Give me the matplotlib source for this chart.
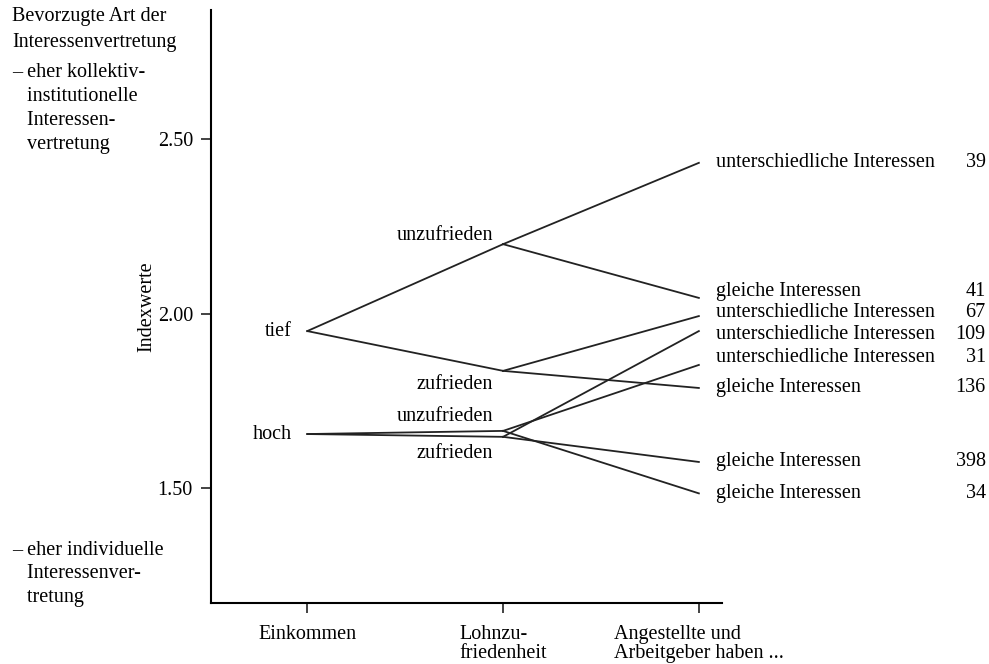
import matplotlib.pyplot as plt

plt.rcParams['font.family'] = ['Liberation Serif', 'DejaVu Serif']

# stages on the x axis
stages = ["Einkommen", "Lohnzu-\nfriedenheit", "Angestellte und\nArbeitgeber haben ..."]

# level 1: income
income_labels = ["tief", "hoch"]
income_values = [1.951, 1.656]

# level 2: wage satisfaction (parent index into income)
sat_labels = ["unzufrieden", "zufrieden", "unzufrieden", "zufrieden"]
sat_parent = [0, 0, 1, 1]
sat_values = [2.200, 1.837, 1.665, 1.648]

# level 3: interests (parent index into satisfaction)
leaf_labels = ["unterschiedliche Interessen", "gleiche Interessen",
               "unterschiedliche Interessen", "gleiche Interessen",
               "unterschiedliche Interessen", "gleiche Interessen",
               "unterschiedliche Interessen", "gleiche Interessen"]
leaf_parent = [0, 0, 1, 1, 2, 2, 3, 3]
leaf_values = [2.433, 2.046, 1.994, 1.788, 1.854, 1.486, 1.951, 1.576]
leaf_n = [39, 41, 67, 136, 31, 34, 109, 398]

fig = plt.figure(figsize=(9.89, 6.64), dpi=100)
ax = fig.add_axes([0.2133, 0.0919, 0.5167, 0.8931])

lw = 1.3
fs = 14.5

for i, v in enumerate(sat_values):
    ax.plot([0, 1], [income_values[sat_parent[i]], v], color='#222222', lw=lw)
for i, v in enumerate(leaf_values):
    ax.plot([1, 2], [sat_values[leaf_parent[i]], v], color='#222222', lw=lw)

# income labels
for lab, v in zip(income_labels, income_values):
    ax.text(-0.08, v, lab, ha='right', va='center', fontsize=fs)

# satisfaction labels (above for unzufrieden, below for zufrieden)
sat_offsets = [0.024, -0.039, 0.040, -0.049]
for lab, v, off in zip(sat_labels, sat_values, sat_offsets):
    ax.text(0.95, v + off, lab, ha='right', va='center', fontsize=fs)

# leaf labels with counts, nudged apart where they crowd
label_shift = [0.0, 0.017, 0.009, 0.0, 0.020, 0.0, -0.011, 0.0]
for lab, v, n, s in zip(leaf_labels, leaf_values, leaf_n, label_shift):
    ax.text(2.09, v + s, lab, ha='left', va='center', fontsize=fs)
    ax.text(3.465, v + s, str(n), ha='right', va='center', fontsize=fs)

ax.set_xlim(-0.492, 2.118)
ax.set_ylim(1.172, 2.871)
ax.set_yticks([1.5, 2.0, 2.5])
ax.set_yticklabels(["1.50", "2.00", "2.50"], fontsize=fs)
ax.set_xticks([0, 1, 2])
ax.set_xticklabels(stages, fontsize=fs, linespacing=0.98)
for t in ax.get_xticklabels():
    t.set_multialignment('left')
ax.tick_params(axis='both', length=7, width=1.2, color='#222222', pad=6)
ax.tick_params(axis='x', pad=9)
ax.spines['top'].set_visible(False)
ax.spines['right'].set_visible(False)
ax.spines['left'].set_linewidth(1.5)
ax.spines['bottom'].set_linewidth(1.5)
ax.set_ylabel("Indexwerte", fontsize=fs, labelpad=1)

fig.text(0.012, 0.989, "Bevorzugte Art der\nInteressenvertretung", ha='left', va='top',
         fontsize=fs, linespacing=1.5)
fig.text(0.012, 0.905, "– eher kollektiv-\n   institutionelle\n   Interessen-\n   vertretung",
         ha='left', va='top', fontsize=fs, linespacing=1.35)
fig.text(0.012, 0.185, "– eher individuelle\n   Interessenver-\n   tretung",
         ha='left', va='top', fontsize=fs, linespacing=1.3)

fig.savefig("out.png", dpi=100)
